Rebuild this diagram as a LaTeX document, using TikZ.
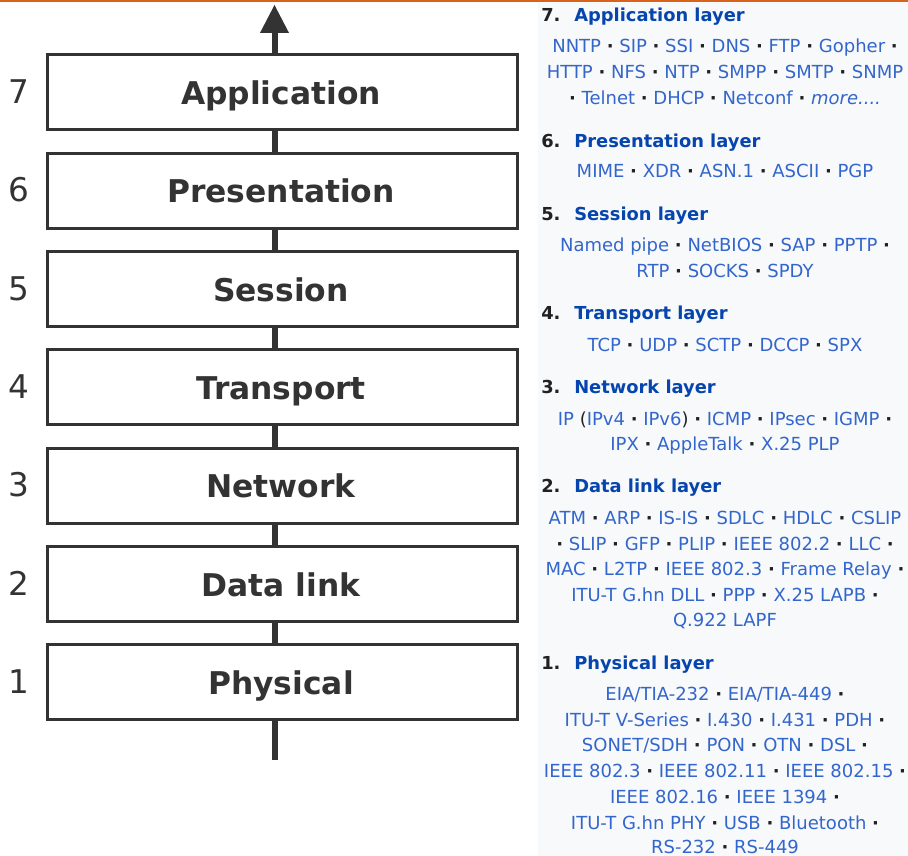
\documentclass[tikz,border=0pt]{standalone}
\usepackage{fontspec}
\setmainfont{DejaVu Sans}
\definecolor{ink}{HTML}{333333}
\definecolor{txt}{HTML}{202122}
\definecolor{linkblue}{HTML}{3366CC}
\definecolor{headblue}{HTML}{0645AD}
\definecolor{panelbg}{HTML}{F8F9FA}
\definecolor{rulecol}{HTML}{D9621C}
% bold separator dot between protocol names
\newcommand{\sd}{{\bfseries\textcolor{txt}{·}}}
\tikzset{
  layerbox/.style={draw=ink, line width=2.25pt, fill=white, rectangle,
    minimum width=352.5pt, minimum height=56.25pt, inner sep=0pt},
  layerlabel/.style={font=\fontsize{23.5}{26}\selectfont\bfseries, text=ink,
    anchor=base, inner sep=0pt},
  layernum/.style={font=\fontsize{24.5}{28}\selectfont, text=ink,
    anchor=base, inner sep=0pt},
  shaft/.style={draw=ink, line width=4.5pt},
  headnum/.style={font=\fontsize{13.4}{16}\selectfont\bfseries, text=txt,
    anchor=base west, inner sep=0pt},
  headtxt/.style={font=\fontsize{13.4}{16}\selectfont\bfseries, text=headblue,
    anchor=base west, inner sep=0pt},
  proto/.style={font=\fontsize{13.5}{16}\selectfont, text=linkblue,
    anchor=base, inner sep=0pt},
}
\begin{document}
\begin{tikzpicture}[x=0.75pt, y=-0.75pt]
\useasboundingbox (0,0) rectangle (908,856);

% side panel and top rule
\fill[panelbg] (538,3) rectangle (908,856);
\fill[rulecol] (0,0) rectangle (908,2.5);

% vertical arrow through the stack
\coordinate (tail) at (274.5,760);
\coordinate (neck) at (274.5,33);
\coordinate (tip) at (274.5,5);
\draw[shaft] (tail) -- (neck);
\fill[ink] (tip) -- ([xshift=10.9pt]neck) -- ([xshift=-10.9pt]neck) -- cycle;

% the seven layers
\foreach \k/\name in {7/Application,6/Presentation,5/Session,4/Transport,3/Network,2/Data link,1/Physical} {
  \pgfmathsetmacro\cy{92.5+(7-\k)*98.33}
  \node[layerbox] (box\k) at (282,\cy) {};
  \node[layerlabel] (lbl\k) at (281,\cy+12) {\name};
  \node[layernum] (num\k) at (19,\cy+11) {\k};
}

% protocol lists
\node[headnum] (h7n) at (541,22) {7.};
\node[headtxt] (h7) at (574,22) {Application layer};
\node[proto] (p7a) at (725,53) {NNTP \sd{} SIP \sd{} SSI \sd{} DNS \sd{} FTP \sd{} Gopher \sd};
\node[proto] (p7b) at (725,79) {HTTP \sd{} NFS \sd{} NTP \sd{} SMPP \sd{} SMTP \sd{} SNMP};
\node[proto] (p7c) at (725,105) {\sd{} Telnet \sd{} DHCP \sd{} Netconf \sd{} \textit{more....}};

\node[headnum] (h6n) at (541,147) {6.};
\node[headtxt] (h6) at (574,147) {Presentation layer};
\node[proto] (p6a) at (725,178) {MIME \sd{} XDR \sd{} ASN.1 \sd{} ASCII \sd{} PGP};

\node[headnum] (h5n) at (541,220) {5.};
\node[headtxt] (h5) at (574,220) {Session layer};
\node[proto] (p5a) at (725,252) {Named pipe \sd{} NetBIOS \sd{} SAP \sd{} PPTP \sd};
\node[proto] (p5b) at (725,277) {RTP \sd{} SOCKS \sd{} SPDY};

\node[headnum] (h4n) at (541,319) {4.};
\node[headtxt] (h4) at (574,319) {Transport layer};
\node[proto] (p4a) at (725,351) {TCP \sd{} UDP \sd{} SCTP \sd{} DCCP \sd{} SPX};

\node[headnum] (h3n) at (541,393) {3.};
\node[headtxt] (h3) at (574,393) {Network layer};
\node[proto] (p3a) at (725,425) {IP \textcolor{txt}{(}IPv4 \sd{} IPv6\textcolor{txt}{)} \sd{} ICMP \sd{} IPsec \sd{} IGMP \sd};
\node[proto] (p3b) at (725,450) {IPX \sd{} AppleTalk \sd{} X.25 PLP};

\node[headnum] (h2n) at (541,492) {2.};
\node[headtxt] (h2) at (574,492) {Data link layer};
\node[proto] (p2a) at (725,524) {ATM \sd{} ARP \sd{} IS-IS \sd{} SDLC \sd{} HDLC \sd{} CSLIP};
\node[proto] (p2b) at (725,550) {\sd{} SLIP \sd{} GFP \sd{} PLIP \sd{} IEEE 802.2 \sd{} LLC \sd};
\node[proto] (p2c) at (725,575) {MAC \sd{} L2TP \sd{} IEEE 802.3 \sd{} Frame Relay \sd};
\node[proto] (p2d) at (725,601) {ITU-T G.hn DLL \sd{} PPP \sd{} X.25 LAPB \sd};
\node[proto] (p2e) at (725,626) {Q.922 LAPF};

\node[headnum] (h1n) at (541,669) {1.};
\node[headtxt] (h1) at (574,669) {Physical layer};
\node[proto] (p1a) at (725,700) {EIA/TIA-232 \sd{} EIA/TIA-449 \sd};
\node[proto] (p1b) at (725,726) {ITU-T V-Series \sd{} I.430 \sd{} I.431 \sd{} PDH \sd};
\node[proto] (p1c) at (725,751) {SONET/SDH \sd{} PON \sd{} OTN \sd{} DSL \sd};
\node[proto] (p1d) at (725,777) {IEEE 802.3 \sd{} IEEE 802.11 \sd{} IEEE 802.15 \sd};
\node[proto] (p1e) at (725,803) {IEEE 802.16 \sd{} IEEE 1394 \sd};
\node[proto] (p1f) at (725,829) {ITU-T G.hn PHY \sd{} USB \sd{} Bluetooth \sd};
\node[proto] (p1g) at (725,853) {RS-232 \sd{} RS-449};
\end{tikzpicture}
\end{document}
